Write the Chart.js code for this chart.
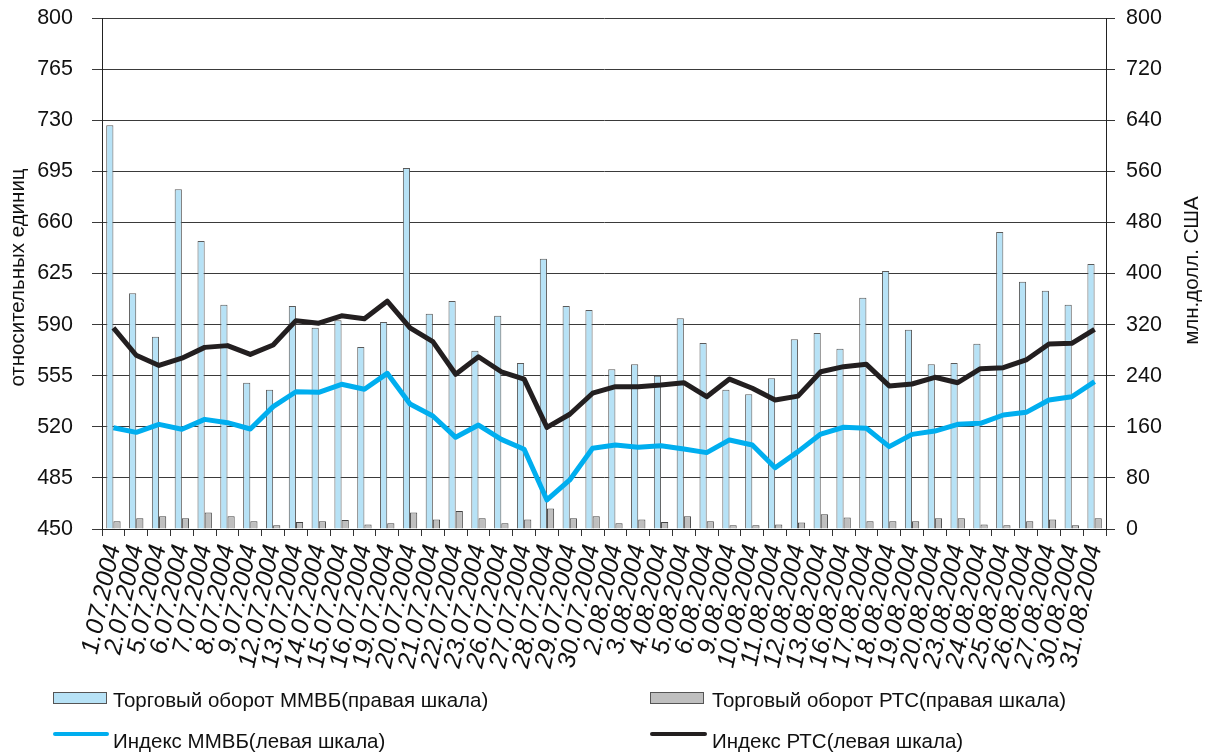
<!DOCTYPE html>
<html><head><meta charset="utf-8">
<script src="https://cdn.jsdelivr.net/npm/chart.js@4.4.1/dist/chart.umd.min.js"></script>
<style>
html,body{margin:0;padding:0;background:#fff;}
#wrap{position:relative;width:1206px;height:754px;overflow:hidden;}
#c{position:absolute;left:0;top:0;}
.leg{position:absolute;font-family:"Liberation Sans",Arial,sans-serif;font-size:20.5px;line-height:22px;color:#111;white-space:nowrap;}
.sw{position:absolute;box-sizing:border-box;}
</style></head><body>
<div id="wrap"><canvas id="c" width="1206" height="754"></canvas><div id="legend"></div></div>
<script>
const categories = ["1.07.2004","2.07.2004","5.07.2004","6.07.2004","7.07.2004","8.07.2004","9.07.2004","12.07.2004","13.07.2004","14.07.2004","15.07.2004","16.07.2004","19.07.2004","20.07.2004","21.07.2004","22.07.2004","23.07.2004","26.07.2004","27.07.2004","28.07.2004","29.07.2004","30.07.2004","2.08.2004","3.08.2004","4.08.2004","5.08.2004","6.08.2004","9.08.2004","10.08.2004","11.08.2004","12.08.2004","13.08.2004","16.08.2004","17.08.2004","18.08.2004","19.08.2004","20.08.2004","23.08.2004","24.08.2004","25.08.2004","26.08.2004","27.08.2004","30.08.2004","31.08.2004"];
const mmvbTurnover = [632,369,301,532,451,351,229,218,349,315,327,285,324,565,337,357,279,334,260,423,349,343,250,258,240,330,291,218,211,236,297,307,282,362,404,312,258,260,290,465,387,373,351,415];
const rtsTurnover = [12,17,20,17,26,20,12,6,11,12,14,7,9,26,15,28,17,9,15,32,17,20,9,15,11,20,12,6,6,7,10,23,18,12,12,12,17,17,7,6,12,15,6,17];
const mmvbIndex = [519.4,516.2,521.7,518.3,525.1,522.8,518.5,533.8,544,543.6,549.1,545.7,556.6,535.6,527.4,512.8,521.2,511.4,504.6,469.9,483.6,505.3,507.5,506,507,504.8,502.3,511,507.5,492,503,515,519.7,519,506.4,514.8,517.1,521.7,522.4,528.1,529.9,538.4,540.6,550.9];
const rtsIndex = [587.7,569,562,567,574.4,575.6,569.6,576,592.7,591,596,594,606,587.7,578.3,556,568,557.7,552.7,519.6,528.6,543,547.5,547.5,548.6,550.2,540.6,552.7,546.4,538.4,541,557.7,561.2,562.8,548,549.3,553.9,550.2,559.8,560.5,565.8,576.7,577.2,586.8];
const leftTicks = [450,485,520,555,590,625,660,695,730,765,800];
const rightTicks = [0,80,160,240,320,400,480,560,640,720,800];
const seriesNames = ["Торговый оборот ММВБ(правая шкала)","Торговый оборот РТС(правая шкала)","Индекс ММВБ(левая шкала)","Индекс РТС(левая шкала)"];
const leftTitle = "относительных единиц";
const rightTitle = "млн.долл. США";

const FONT = '"Liberation Sans", Arial, sans-serif';
const colBlue = '#b7e2f6', colGray = '#bfbfbf', colCyan = '#00aeef', colBlack = '#231f20';

const axisTitles = {
  id: 'axisTitles',
  afterDraw(chart) {
    const ctx = chart.ctx, a = chart.chartArea;
    const cy = (a.top + a.bottom) / 2;
    ctx.save();
    ctx.font = '20.5px ' + FONT;
    ctx.fillStyle = '#111';
    ctx.textAlign = 'center';
    ctx.textBaseline = 'middle';
    ctx.save(); ctx.translate(18, cy + 4); ctx.rotate(-Math.PI / 2); ctx.fillText(leftTitle, 0, 0); ctx.restore();
    ctx.save(); ctx.translate(1192, cy - 3); ctx.rotate(-Math.PI / 2); ctx.fillText(rightTitle, 0, 0); ctx.restore();
    ctx.restore();
  }
};

const chart = new Chart(document.getElementById('c'), {
  data: {
    labels: categories,
    datasets: [
      { type: 'bar', label: seriesNames[0], data: mmvbTurnover, yAxisID: 'yR', backgroundColor: colBlue, borderColor: '#5a5a5a', borderWidth: 1, order: 2, categoryPercentage: 0.63, barPercentage: 1 },
      { type: 'bar', label: seriesNames[1], data: rtsTurnover, yAxisID: 'yR', backgroundColor: colGray, borderColor: '#444', borderWidth: 1, order: 2, categoryPercentage: 0.63, barPercentage: 1 },
      { type: 'line', label: seriesNames[2], data: mmvbIndex, yAxisID: 'yL', borderColor: colCyan, backgroundColor: colCyan, borderWidth: 5, pointRadius: 0, tension: 0, borderJoinStyle: 'round', order: 1 },
      { type: 'line', label: seriesNames[3], data: rtsIndex, yAxisID: 'yL', borderColor: colBlack, backgroundColor: colBlack, borderWidth: 5, pointRadius: 0, tension: 0, borderJoinStyle: 'round', order: 0 }
    ]
  },
  options: {
    responsive: false,
    animation: false,
    devicePixelRatio: 1,
    layout: { padding: { top: 18, left: 0, right: 0, bottom: 0 } },
    plugins: { legend: { display: false }, tooltip: { enabled: false } },
    scales: {
      x: {
        offset: true,
        grid: { display: true, drawOnChartArea: false, drawTicks: true, tickLength: 7, color: '#333', offset: true },
        border: { display: true, color: '#222', width: 1 },
        ticks: { autoSkip: false, minRotation: 78, maxRotation: 78, padding: 6, color: '#111', font: { family: FONT, size: 25, style: 'italic' } },
        afterFit(s) { s.height = 225; s.paddingLeft = 0; s.paddingRight = 0; }
      },
      yL: {
        position: 'left', min: 450, max: 800,
        afterBuildTicks(s) { s.ticks = leftTicks.map(v => ({ value: v })); },
        grid: { drawOnChartArea: true, drawTicks: true, tickLength: 10, color: '#3a3a3a', lineWidth: 1 },
        border: { display: true, color: '#222', width: 1 },
        ticks: { padding: 19, color: '#111', font: { family: FONT, size: 21.5 } },
        afterFit(s) { s.width = 102; s.paddingTop = 0; s.paddingBottom = 0; }
      },
      yR: {
        position: 'right', min: 0, max: 800,
        afterBuildTicks(s) { s.ticks = rightTicks.map(v => ({ value: v })); },
        grid: { drawOnChartArea: false, drawTicks: true, tickLength: 9, color: '#333' },
        border: { display: true, color: '#222', width: 1 },
        ticks: { padding: 11, color: '#111', font: { family: FONT, size: 21.5 } },
        afterFit(s) { s.width = 100; s.paddingTop = 0; s.paddingBottom = 0; }
      }
    }
  },
  plugins: [axisTitles]
});

// HTML legend built from the chart's datasets
(function buildLegend() {
  const L = document.getElementById('legend');
  const pos = [
    { sx: 53, tx: 113, row: 0 }, { sx: 650, tx: 712, row: 0 },
    { sx: 53, tx: 113, row: 1 }, { sx: 650, tx: 712, row: 1 }
  ];
  chart.data.datasets.forEach((ds, i) => {
    const p = pos[i];
    const sw = document.createElement('div');
    sw.className = 'sw';
    if (ds.type === 'bar') {
      Object.assign(sw.style, { left: p.sx + 'px', top: '692px', width: '54px', height: '12px', background: ds.backgroundColor, border: '1px solid #555' });
    } else {
      Object.assign(sw.style, { left: p.sx + 'px', top: '732px', width: (i === 2 ? 56 : 57) + 'px', height: '4px', background: ds.borderColor, borderRadius: '2px' });
    }
    L.appendChild(sw);
    const t = document.createElement('div');
    t.className = 'leg';
    t.textContent = ds.label;
    t.style.left = p.tx + 'px';
    t.style.top = (p.row === 0 ? 689 : 730) + 'px';
    L.appendChild(t);
  });
})();
</script>
</body></html>
